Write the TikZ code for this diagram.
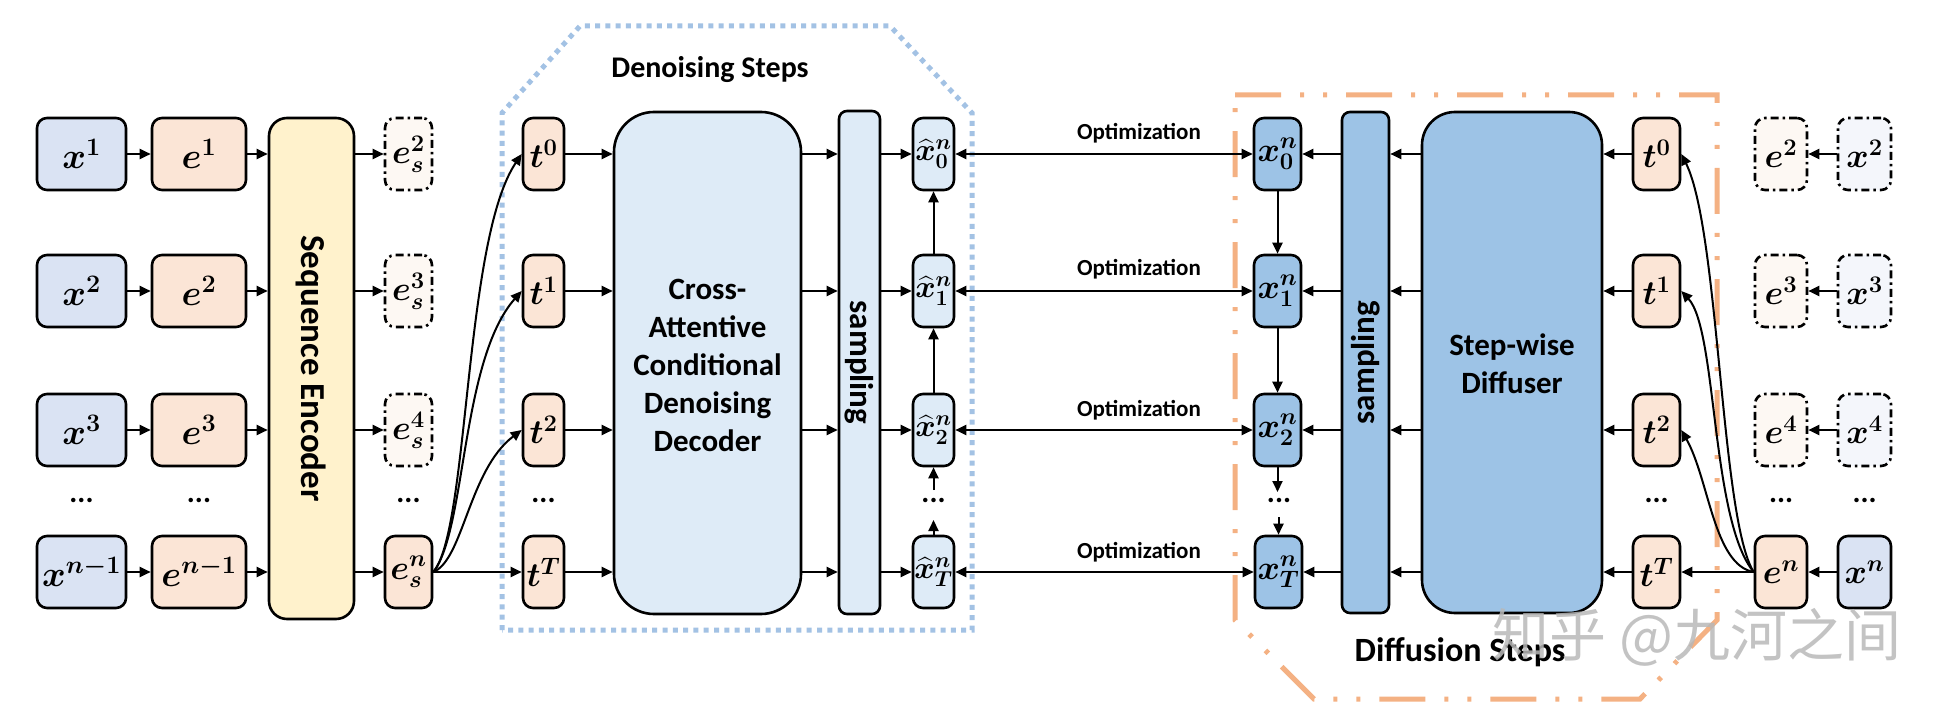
\RequirePackage{fix-cm}
\documentclass[tikz,border=0pt]{standalone}
\usepackage{amsmath}
\usepackage{bm}
\usepackage[no-math]{fontspec}
\setmainfont{Carlito}
\newfontfamily\cjkfont{Noto Sans CJK SC}
\usetikzlibrary{arrows.meta}
\definecolor{xblue}{HTML}{DAE3F3}
\definecolor{eorange}{HTML}{FBE5D6}
\definecolor{encyellow}{HTML}{FFF2CC}
\definecolor{lblue}{HTML}{DEEBF7}
\definecolor{mblue}{HTML}{9DC3E6}
\definecolor{dotblue}{HTML}{A3C2E4}
\definecolor{orangeB}{HTML}{F4B183}
\definecolor{faintor}{HTML}{FDF8F3}
\definecolor{faintbl}{HTML}{F4F6FB}
\tikzset{
  bx/.style={draw=black, line width=2.6pt, rounded corners=10pt, inner sep=0pt, minimum height=72pt},
  bigbx/.style={bx, font=\fontsize{36}{40}\selectfont},
  smbx/.style={bx, font=\fontsize{34}{38}\selectfont},
  hatbx/.style={bx, font=\fontsize{31}{36}\selectfont},
  ddbox/.style={dash pattern=on 8pt off 4pt on 2.5pt off 4pt},
  arr/.style={line width=2pt, -{Triangle[length=11pt,width=10pt]}},
  darr/.style={line width=2pt, {Triangle[length=11pt,width=10pt]}-{Triangle[length=11pt,width=10pt]}},
  lab/.style={font=\fontsize{23}{26}\selectfont\bfseries, inner sep=0pt},
  ttl/.style={font=\fontsize{30}{34}\selectfont\bfseries, inner sep=0pt},
  dots/.style={font=\fontsize{30}{30}\selectfont\bfseries, inner sep=0pt},
  bigtxt/.style={font=\fontsize{31}{38}\selectfont\bfseries, align=center},
}
\begin{document}
\begin{tikzpicture}[x=1pt,y=-1pt]
\useasboundingbox (0,0) rectangle (1954,714);
% group boundaries
\draw[draw=dotblue, line width=5pt, dash pattern=on 5pt off 5.3pt]
  (502,630) -- (502,113) -- (580,26) -- (890,26) -- (972,113) -- (972,630) -- cycle;
\draw[draw=orangeB, line width=5pt, dash pattern=on 46pt off 19pt on 4pt off 19pt on 4pt off 19pt]
  (1235,95) -- (1717,95) -- (1717,620) -- (1640,699) -- (1314,699) -- (1235,620) -- cycle;
\node[ttl] (dtitle) at (710,70) {Denoising Steps};
\node[ttl, font=\fontsize{34}{38}\selectfont\bfseries] (ftitle) at (1460,652) {Diffusion Steps};

% ---------- left: inputs ----------
\node[bigbx, fill=xblue, minimum width=89pt] (xl1) at (81.5,154) {$\bm{x^1}$};
\node[bigbx, fill=xblue, minimum width=89pt] (xl2) at (81.5,291) {$\bm{x^2}$};
\node[bigbx, fill=xblue, minimum width=89pt] (xl3) at (81.5,430) {$\bm{x^3}$};
\node[bigbx, fill=xblue, minimum width=89pt] (xln) at (81.5,572) {$\bm{x^{n-1}}$};
\node[dots] (dl1) at (81.5,500) {...};
\node[bigbx, fill=eorange, minimum width=94pt] (el1) at (199,154) {$\bm{e^1}$};
\node[bigbx, fill=eorange, minimum width=94pt] (el2) at (199,291) {$\bm{e^2}$};
\node[bigbx, fill=eorange, minimum width=94pt] (el3) at (199,430) {$\bm{e^3}$};
\node[bigbx, fill=eorange, minimum width=94pt] (eln) at (199,572) {$\bm{e^{n-1}}$};
\node[dots] (dl2) at (199,500) {...};
\node[draw=black, line width=2.6pt, rounded corners=18pt, fill=encyellow, minimum width=85pt, minimum height=501pt, inner sep=0pt] (enc) at (311.5,368.5) {};
\node[font=\fontsize{35}{40}\selectfont\bfseries, rotate=-90] (enclab) at (enc.center) {Sequence Encoder};
\node[smbx, ddbox, fill=faintor, minimum width=47pt] (esl2) at (408.5,154) {$\bm{e_s^2}$};
\node[smbx, ddbox, fill=faintor, minimum width=47pt] (esl3) at (408.5,291) {$\bm{e_s^3}$};
\node[smbx, ddbox, fill=faintor, minimum width=47pt] (esl4) at (408.5,430) {$\bm{e_s^4}$};
\node[smbx, fill=eorange, minimum width=47pt] (esln) at (408.5,572) {$\bm{e_s^n}$};
\node[dots] (dl3) at (408.5,500) {...};

\foreach \a/\b in {xl1/el1,xl2/el2,xl3/el3,xln/eln}
  \draw[arr] (\a.east) -- (\b.west);
\foreach \a in {el1,el2,el3,eln}
  \draw[arr] (\a.east) -- (enc.west |- \a.east);
\foreach \b in {esl2,esl3,esl4,esln}
  \draw[arr] (enc.east |- \b.west) -- (\b.west);

% ---------- middle: denoising ----------
\node[smbx, fill=eorange, minimum width=41pt] (tm0) at (543.5,154) {$\bm{t^0}$};
\node[smbx, fill=eorange, minimum width=41pt] (tm1) at (543.5,291) {$\bm{t^1}$};
\node[smbx, fill=eorange, minimum width=41pt] (tm2) at (543.5,430) {$\bm{t^2}$};
\node[smbx, fill=eorange, minimum width=41pt] (tmT) at (543.5,572) {$\bm{t^T}$};
\node[dots] (dm1) at (543.5,500) {...};
\node[draw=black, line width=2.6pt, rounded corners=40pt, fill=lblue, minimum width=187pt, minimum height=502pt, inner sep=0pt] (dec) at (707.5,363) {};
\node[bigtxt] (declab) at (707.5,365) {Cross-\\Attentive\\Conditional\\Denoising\\Decoder};
\node[draw=black, line width=2.6pt, rounded corners=8pt, fill=lblue, minimum width=41pt, minimum height=503pt, inner sep=0pt] (sampM) at (859.5,362.5) {};
\node[font=\fontsize{33}{38}\selectfont\bfseries, rotate=-90] (sampMlab) at (sampM.center) {sampling};
\node[hatbx, fill=lblue, minimum width=41pt] (xh0) at (933.5,154) {$\widehat{\bm{x}}{}^{\bm n}_{\bm 0}$};
\node[hatbx, fill=lblue, minimum width=41pt] (xh1) at (933.5,291) {$\widehat{\bm{x}}{}^{\bm n}_{\bm 1}$};
\node[hatbx, fill=lblue, minimum width=41pt] (xh2) at (933.5,430) {$\widehat{\bm{x}}{}^{\bm n}_{\bm 2}$};
\node[hatbx, fill=lblue, minimum width=41pt] (xhT) at (933.5,572) {$\widehat{\bm{x}}{}^{\bm n}_{\bm T}$};
\node[dots] (dm2) at (933.5,500) {...};
\coordinate (cxa) at (933.5,520);
\coordinate (cxb) at (933.5,490);

\draw[arr] (esln.east) .. controls +(36,-42) and +(-58,86) .. (tm0.west);
\draw[arr] (esln.east) .. controls +(33,-42) and +(-61,69) .. (tm1.west);
\draw[arr] (esln.east) .. controls +(30,-12) and +(-53,40) .. (tm2.west);
\draw[arr] (esln.east) -- (tmT.west);
\foreach \a/\b in {tm0/xh0,tm1/xh1,tm2/xh2,tmT/xhT}{
  \draw[arr] (\a.east) -- (dec.west |- \a.east);
  \draw[arr] (dec.east |- \a.east) -- (sampM.west |- \a.east);
  \draw[arr] (sampM.east |- \b.west) -- (\b.west);
}
\draw[arr] (xh1.north) -- (xh0.south);
\draw[arr] (xh2.north) -- (xh1.south);
\draw[arr] (xhT.north) -- (cxa);
\draw[arr] (cxb) -- (xh2.south);

% ---------- right: diffusion ----------
\node[smbx, fill=mblue, minimum width=47pt] (xd0) at (1277.5,154) {$\bm{x_0^n}$};
\node[smbx, fill=mblue, minimum width=47pt] (xd1) at (1277.5,291) {$\bm{x_1^n}$};
\node[smbx, fill=mblue, minimum width=47pt] (xd2) at (1277.5,430) {$\bm{x_2^n}$};
\node[smbx, fill=mblue, minimum width=47pt] (xdT) at (1278.5,572) {$\bm{x_T^n}$};
\node[dots] (dr1) at (1279,500) {...};
\coordinate (cya) at (1277.5,492);
\coordinate (cyb) at (1278.5,517);
\node[draw=black, line width=2.6pt, rounded corners=8pt, fill=mblue, minimum width=47pt, minimum height=501pt, inner sep=0pt] (sampR) at (1365.5,362.5) {};
\node[font=\fontsize{33}{38}\selectfont\bfseries, rotate=90] (sampRlab) at (sampR.center) {sampling};
\node[draw=black, line width=2.6pt, rounded corners=33pt, fill=mblue, minimum width=180pt, minimum height=501pt, inner sep=0pt] (diff) at (1512,362.5) {};
\node[bigtxt] (difflab) at (1512,364) {Step-wise\\Diffuser};
\node[smbx, fill=eorange, minimum width=47pt] (td0) at (1656.5,154) {$\bm{t^0}$};
\node[smbx, fill=eorange, minimum width=47pt] (td1) at (1656.5,291) {$\bm{t^1}$};
\node[smbx, fill=eorange, minimum width=47pt] (td2) at (1656.5,430) {$\bm{t^2}$};
\node[smbx, fill=eorange, minimum width=47pt] (tdT) at (1656.5,572) {$\bm{t^T}$};
\node[dots] (dr2) at (1656.5,500) {...};
\node[smbx, ddbox, fill=faintor, minimum width=52pt] (ei2) at (1781,154) {$\bm{e^2}$};
\node[smbx, ddbox, fill=faintor, minimum width=52pt] (ei3) at (1781,291) {$\bm{e^3}$};
\node[smbx, ddbox, fill=faintor, minimum width=52pt] (ei4) at (1781,430) {$\bm{e^4}$};
\node[smbx, fill=eorange, minimum width=52pt] (ein) at (1781,572) {$\bm{e^n}$};
\node[dots] (dr3) at (1781,500) {...};
\node[smbx, ddbox, fill=faintbl, minimum width=53pt] (xi2) at (1864.5,154) {$\bm{x^2}$};
\node[smbx, ddbox, fill=faintbl, minimum width=53pt] (xi3) at (1864.5,291) {$\bm{x^3}$};
\node[smbx, ddbox, fill=faintbl, minimum width=53pt] (xi4) at (1864.5,430) {$\bm{x^4}$};
\node[smbx, fill=xblue, minimum width=53pt] (xin) at (1864.5,572) {$\bm{x^n}$};
\node[dots] (dr4) at (1864.5,500) {...};

\foreach \a/\b in {xi2/ei2,xi3/ei3,xi4/ei4,xin/ein}
  \draw[arr] (\a.west) -- (\b.east);
\draw[arr] (ein.west) -- (tdT.east);
\draw[arr] (ein.west) .. controls +(-33,-52) and +(38,76) .. (td0.east);
\draw[arr] (ein.west) .. controls +(-43,-52) and +(36,39) .. (td1.east);
\draw[arr] (ein.west) .. controls +(-40,-7) and +(28,50) .. (td2.east);
\foreach \a/\b in {td0/xd0,td1/xd1,td2/xd2,tdT/xdT}{
  \draw[arr] (\a.west) -- (diff.east |- \a.west);
  \draw[arr] (diff.west |- \b.east) -- (sampR.east |- \b.east);
  \draw[arr] (sampR.west |- \b.east) -- (\b.east);
}
\draw[arr] (xd0.south) -- (xd1.north);
\draw[arr] (xd1.south) -- (xd2.north);
\draw[arr] (xd2.south) -- (cya);
\draw[arr] (cyb) -- (xdT.north);

% ---------- optimization links ----------
\draw[darr] (xh0.east) -- (xd0.west);
\draw[darr] (xh1.east) -- (xd1.west);
\draw[darr] (xh2.east) -- (xd2.west);
\draw[darr] (xhT.east) -- (xdT.west);
\node[lab] (op0) at (1139,133) {Optimization};
\node[lab] (op1) at (1139,269) {Optimization};
\node[lab] (op2) at (1139,410) {Optimization};
\node[lab] (op3) at (1139,552) {Optimization};

% watermark
\node[font=\cjkfont\fontsize{57}{60}\selectfont, text=black!28, opacity=0.85, inner sep=0pt] (wm) at (1697,637) {知乎 @九河之间};
\end{tikzpicture}
\end{document}
